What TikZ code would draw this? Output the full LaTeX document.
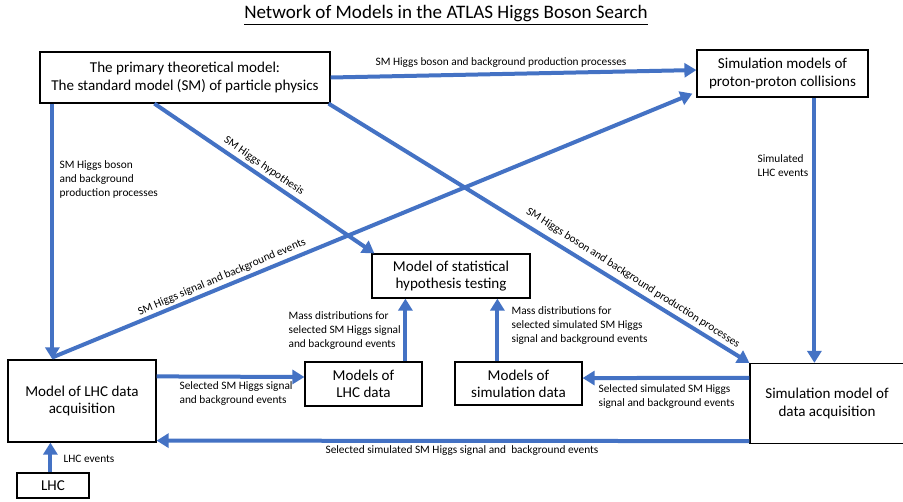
\documentclass[tikz,border=0pt]{standalone}
\usepackage{fontspec}
\setmainfont{Carlito}
\usetikzlibrary{arrows.meta}
\definecolor{ablue}{HTML}{4472C4}
\begin{document}
\begin{tikzpicture}[x=0.75pt,y=-0.75pt,
 box/.style={draw=black,line width=0.9pt,fill=white,align=center,font=\fontsize{11.3}{12.9}\selectfont,inner sep=0pt},
 conn/.style={draw=ablue,line width=3pt,-{Triangle[length=9pt,width=10.5pt]}},
 lbl/.style={font=\fontsize{8.5}{10.5}\selectfont,align=left,inner sep=1pt,text=black}]
\useasboundingbox (0,0) rectangle (903,501);
\fill[white] (0,0) rectangle (903,501);

\node[font=\fontsize{14.3}{16}\selectfont] (title) at (446,15) {\underline{Network of Models in the ATLAS Higgs Boson Search}};

\node[box,minimum width=217.5pt,minimum height=38.25pt] (prim) at (185,77.5) {The primary theoretical model:\\The standard model (SM) of particle physics};
\node[box,minimum width=128.25pt,minimum height=35.25pt] (simpp) at (782.5,73.5) {Simulation models of\\proton-proton collisions};
\node[box,minimum width=118.5pt,minimum height=33pt] (stat) at (451,276) {Model of statistical\\hypothesis testing};
\node[box,minimum width=111pt,minimum height=61.5pt] (lhcacq) at (82,401) {Model of LHC data\\acquisition};
\node[box,minimum width=87.75pt,minimum height=33pt] (lhcdata) at (363.5,384) {Models of\\LHC data};
\node[box,minimum width=95.25pt,minimum height=32.25pt] (simdata) at (518.5,383.5) {Models of\\simulation data};
\node[box,minimum width=115.5pt,minimum height=60pt] (simacq) at (827,403.5) {Simulation model of\\data acquisition};
\node[box,minimum width=54pt,minimum height=18.75pt] (lhc) at (53,485.5) {LHC};

% connectors
\draw[conn] ([yshift=0pt]prim.east) -- ([yshift=2.6pt]simpp.west);
\draw[conn] ([xshift=9.75pt]prim.south west) -- ([xshift=33.75pt]lhcacq.north west);
\draw[conn] ([xshift=86.25pt]prim.south west) -- ([xshift=2.25pt]stat.north west);
\draw[conn] ([xshift=-1.5pt]prim.south east) -- (simacq.north west);
\draw[conn] ([xshift=33.75pt,yshift=1.5pt]lhcacq.north west) -- ([xshift=-3pt,yshift=3pt]simpp.south west);
\draw[conn] ([xshift=88.5pt]simpp.south west) -- ([xshift=48.75pt]simacq.north west);
\draw[conn] ([yshift=-12.75pt]lhcacq.north east) -- ([yshift=5.25pt]lhcdata.west);
\draw[conn] ([xshift=75.75pt]lhcdata.north west) -- ([xshift=25.5pt]stat.south west);
\draw[conn] ([xshift=32.25pt]simdata.north west) -- ([xshift=94.5pt]stat.south west);
\draw[conn] ([yshift=-11.25pt]simacq.north west) -- ([yshift=4.1pt]simdata.east);
\draw[conn] ([yshift=2.25pt]simacq.south west) -- ([yshift=1.5pt]lhcacq.south east);
\draw[conn] ([xshift=25.5pt]lhc.north west) -- ([xshift=32.25pt]lhcacq.south west);

% labels
\node[lbl] (l1) at (501,63) {SM Higgs boson and background production processes};
\node[lbl,anchor=west] (l2) at (58,179) {SM Higgs boson\\and background\\production processes};
\node[lbl,rotate=-34.5] (l3) at (264,166) {SM Higgs hypothesis};
\node[lbl,rotate=-32.5] (l4) at (633,278) {SM Higgs boson and background production processes};
\node[lbl,rotate=23] (l5) at (222,277) {SM Higgs signal and background events};
\node[lbl,anchor=west] (l6) at (756,166) {Simulated\\LHC events};
\node[lbl,anchor=west] (l7) at (178,394) {Selected SM Higgs signal\\and background events};
\node[lbl,anchor=west] (l8) at (287,331) {Mass distributions for\\selected SM Higgs signal\\and background events};
\node[lbl,anchor=west] (l9) at (510,326) {Mass distributions for\\selected simulated SM Higgs\\signal and background events};
\node[lbl,anchor=west] (l10) at (597,397) {Selected simulated SM Higgs\\signal and background events};
\node[lbl] (l11) at (462,451) {Selected simulated SM Higgs signal and~ background events};
\node[lbl,anchor=west] (l12) at (62,459) {LHC events};
\end{tikzpicture}
\end{document}
